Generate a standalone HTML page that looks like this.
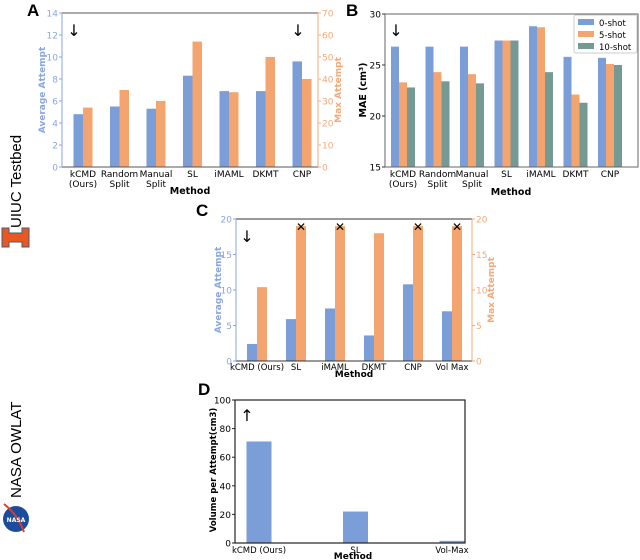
<!DOCTYPE html>
<html><head><meta charset="utf-8"><style>
html,body{margin:0;padding:0;background:#fff;}
svg{display:block;font-family:"DejaVu Sans","Liberation Sans",sans-serif;}
</style></head><body>
<svg id="fig" width="640" height="560" viewBox="0 0 640 560" xmlns="http://www.w3.org/2000/svg">
  <text x="27" y="16" font-size="17" font-weight="bold" font-family="Liberation Sans, sans-serif">A</text>
  <text x="346" y="16" font-size="17" font-weight="bold" font-family="Liberation Sans, sans-serif">B</text>
  <text x="196" y="216" font-size="17" font-weight="bold" font-family="Liberation Sans, sans-serif">C</text>
  <text x="198" y="395" font-size="17" font-weight="bold" font-family="Liberation Sans, sans-serif">D</text>
  <text transform="translate(21,228) rotate(-90)" font-size="15" font-family="Liberation Sans, sans-serif">UIUC Testbed</text>
  <path d="M2,228 H9 V233 H22 V228 H29 V247 H22 V242 H9 V247 H2 Z" fill="#e8581f" stroke="#4a5a78" stroke-width="1"/>
  <text transform="translate(21,498) rotate(-90)" font-size="15" font-family="Liberation Sans, sans-serif">NASA OWLAT</text>
  <g>
    <circle cx="16" cy="519" r="13" fill="#1c4c9c"/>
    <path d="M4,504 Q18,515 24,532" stroke="#e03c28" stroke-width="2" fill="none"/>
    <text x="16" y="522" font-size="6" fill="#fff" text-anchor="middle" font-weight="bold">NASA</text>
  </g>
</svg>
<script>
// ---- Panel A data ----
const catsA = [["kCMD","(Ours)"],["Random","Split"],["Manual","Split"],["SL"],["iMAML"],["DKMT"],["CNP"]];
const avgA = [4.8, 5.5, 5.3, 8.3, 6.9, 6.9, 9.6];
const maxA = [27, 35, 30, 57, 34, 50, 40];
const ticksAL = [0,2,4,6,8,10,12,14];
const ticksAR = [0,10,20,30,40,50,60,70];
// ---- Panel B data ----
const catsB = [["kCMD","(Ours)"],["Random","Split"],["Manual","Split"],["SL"],["iMAML"],["DKMT"],["CNP"]];
const shot0B = [26.8, 26.8, 26.8, 27.4, 28.8, 25.8, 25.7];
const shot5B = [23.3, 24.3, 24.1, 27.4, 28.7, 22.1, 25.1];
const shot10B = [22.8, 23.4, 23.2, 27.4, 24.3, 21.3, 25.0];
const ticksB = [15,20,25,30];
const legendB = ["0-shot","5-shot","10-shot"];
// ---- Panel C data ----
const catsC = ["kCMD (Ours)","SL","iMAML","DKMT","CNP","Vol Max"];
const avgC = [2.4, 5.9, 7.4, 3.6, 10.8, 7.0];
const maxC = [10.4, 19, 19, 18.0, 19, 19];
const cappedC = [false, true, true, false, true, true];
const ticksCL = [0,5,10,15,20];
const ticksCR = [0,5,10,15,20];
// ---- Panel D data ----
const catsD = ["kCMD (Ours)","SL","Vol-Max"];
const volD = [71, 22, 1.5];
const ticksD = [0,20,40,60,80,100];

const BLUE="#7b9ed9", ORANGE="#f4a46f", GREEN="#759a94", LBLUE="#8aa6e0", LORANGE="#f5a878";
const svg=document.getElementById('fig');
const NS="http://www.w3.org/2000/svg";
function mk(tag,attrs,parent){const e=document.createElementNS(NS,tag);for(const k in attrs)e.setAttribute(k,attrs[k]);(parent||svg).appendChild(e);return e;}
function txt(x,y,s,attrs,parent){const t=mk('text',Object.assign({x:x,y:y},attrs||{}),parent);t.textContent=s;return t;}
function lin(y0,y1,p0,p1){return v=>p0+(v-y0)/(y1-y0)*(p1-p0);}

// ===== Panel A =====
(function(){
  const g=mk('g',{});
  
  
  const L=62,R=318,T=13,B=167;
  const yL=lin(0,14,B,T), yR=lin(0,70,B,T);
  const xc=i=>83+36.5*i, bw=9.5;
  avgA.forEach((v,i)=>{const r=mk('rect',{x:xc(i)-bw,y:yL(v),width:bw,height:B-yL(v),fill:BLUE},g);
    
    });
  maxA.forEach((v,i)=>{const r=mk('rect',{x:xc(i),y:yR(v),width:bw,height:B-yR(v),fill:ORANGE},g);
    
    });
  mk('line',{x1:L,y1:T,x2:R,y2:T,stroke:'#555','stroke-width':1},g);
  mk('line',{x1:L,y1:B,x2:R,y2:B,stroke:'#555','stroke-width':1},g);
  mk('line',{x1:L,y1:T,x2:L,y2:B,stroke:LBLUE,'stroke-width':1},g);
  mk('line',{x1:R,y1:T,x2:R,y2:B,stroke:LORANGE,'stroke-width':1},g);
  ticksAL.forEach(t=>{mk('line',{x1:L-3,y1:yL(t),x2:L,y2:yL(t),stroke:LBLUE},g);
    txt(L-4,yL(t)+3.5,t,{'font-size':9,fill:LBLUE,'text-anchor':'end'},g);});
  ticksAR.forEach(t=>{mk('line',{x1:R,y1:yR(t),x2:R+3,y2:yR(t),stroke:LORANGE},g);
    txt(R+4,yR(t)+3.5,t,{'font-size':9,fill:LORANGE},g);});
  catsA.forEach((c,i)=>{c.forEach((s,j)=>txt(xc(i),B+10+j*10,s,{'font-size':9,'text-anchor':'middle'},g));});
  const xl=txt(190,194,'Method',{'font-size':9.5,'font-weight':'bold','text-anchor':'middle'},g);
  
  
  const yl=txt(0,0,'Average Attempt',{'font-size':9,'font-weight':'bold',fill:LBLUE,'text-anchor':'middle',transform:'translate(45,90) rotate(-90)'},g);
  
  
  const yr=txt(0,0,'Max Attempt',{'font-size':9,'font-weight':'bold',fill:LORANGE,'text-anchor':'middle',transform:'translate(341,90) rotate(-90)'},g);
  
  
  txt(74,36,'↓',{'font-size':16,'text-anchor':'middle'},g);
  txt(298,36,'↓',{'font-size':16,'text-anchor':'middle'},g);
})();

// ===== Panel B =====
(function(){
  const g=mk('g',{});
  
  
  const L=385,R=638,T=14,B=167;
  const y=lin(15,30,B,T);
  const xc=i=>403+34.5*i, bw=8;
  [[shot0B,BLUE,-1.5],[shot5B,ORANGE,-0.5],[shot10B,GREEN,0.5]].forEach(([arr,col,off],s)=>{
    arr.forEach((v,i)=>{const r=mk('rect',{x:xc(i)+off*bw,y:y(v),width:bw,height:B-y(v),fill:col},g);
      
      });
  });
  mk('rect',{x:L,y:T,width:R-L,height:B-T,fill:'none',stroke:'#666','stroke-width':1},g);
  ticksB.forEach(t=>{mk('line',{x1:L-3,y1:y(t),x2:L,y2:y(t),stroke:'#333'},g);
    txt(L-4,y(t)+3.5,t,{'font-size':9,'text-anchor':'end'},g);});
  catsB.forEach((c,i)=>{c.forEach((s,j)=>txt(xc(i),B+10+j*10,s,{'font-size':9,'text-anchor':'middle'},g));});
  const xl=txt(511,195,'Method',{'font-size':9.5,'font-weight':'bold','text-anchor':'middle'},g);
  
  
  const yl=txt(0,0,'MAE (cm³)',{'font-size':9.5,'font-weight':'bold','text-anchor':'middle',transform:'translate(366,90) rotate(-90)'},g);
  
  
  txt(396,36,'↓',{'font-size':16,'text-anchor':'middle'},g);
  const lg=mk('g',{},g);
  
  
  mk('rect',{x:574,y:15,width:63,height:38,fill:'#fff',stroke:'#ccc',rx:2},lg);
  [BLUE,ORANGE,GREEN].forEach((c,i)=>{
    const e=mk('g',{},lg);
    
    
    mk('rect',{x:578,y:19+i*12,width:16,height:6,fill:c},e);
    txt(599,26+i*12,legendB[i],{'font-size':8.5},e);
  });
})();

// ===== Panel C =====
(function(){
  const g=mk('g',{});
  
  
  const L=236,R=472,T=219,B=361;
  const yL=lin(0,20,B,T), yR=lin(0,20,B,T);
  const xc=i=>257+39*i, bw=10;
  avgC.forEach((v,i)=>{const r=mk('rect',{x:xc(i)-bw,y:yL(v),width:bw,height:B-yL(v),fill:BLUE},g);
    
    });
  maxC.forEach((v,i)=>{const r=mk('rect',{x:xc(i),y:yR(v),width:bw,height:B-yR(v),fill:ORANGE},g);
    
    
    if(cappedC[i]){const m=txt(xc(i)+bw/2,yR(v)+5,'✕',{'font-size':12,'text-anchor':'middle'},g);
      
      }});
  mk('line',{x1:L,y1:T,x2:R,y2:T,stroke:'#333'},g);
  mk('line',{x1:L,y1:B,x2:R,y2:B,stroke:'#333'},g);
  mk('line',{x1:L,y1:T,x2:L,y2:B,stroke:LBLUE},g);
  mk('line',{x1:R,y1:T,x2:R,y2:B,stroke:LORANGE},g);
  ticksCL.forEach(t=>{mk('line',{x1:L-3,y1:yL(t),x2:L,y2:yL(t),stroke:LBLUE},g);
    txt(L-4,yL(t)+3.5,t,{'font-size':9,fill:LBLUE,'text-anchor':'end'},g);});
  ticksCR.forEach(t=>{mk('line',{x1:R,y1:yR(t),x2:R+3,y2:yR(t),stroke:LORANGE},g);
    txt(R+4,yR(t)+3.5,t,{'font-size':9,fill:LORANGE},g);});
  catsC.forEach((c,i)=>txt(xc(i),B+9,c,{'font-size':8.5,'text-anchor':'middle'},g));
  const xl=txt(354,377,'Method',{'font-size':9,'font-weight':'bold','text-anchor':'middle'},g);
  
  
  const yl=txt(0,0,'Average Attempt',{'font-size':9,'font-weight':'bold',fill:LBLUE,'text-anchor':'middle',transform:'translate(221,290) rotate(-90)'},g);
  
  
  const yr=txt(0,0,'Max Attempt',{'font-size':9,'font-weight':'bold',fill:LORANGE,'text-anchor':'middle',transform:'translate(494,290) rotate(-90)'},g);
  
  
  txt(247,242,'↓',{'font-size':16,'text-anchor':'middle'},g);
})();

// ===== Panel D =====
(function(){
  const g=mk('g',{});
  
  
  const L=235,R=465,T=400,B=543;
  const y=lin(0,100,B,T);
  const xc=i=>259+96.5*i, bw=25;
  volD.forEach((v,i)=>{const r=mk('rect',{x:xc(i)-bw/2,y:y(v),width:bw,height:B-y(v),fill:BLUE},g);
    
    });
  mk('rect',{x:L,y:T,width:R-L,height:B-T,fill:'none',stroke:'#222','stroke-width':1.2},g);
  ticksD.forEach(t=>{mk('line',{x1:L-3,y1:y(t),x2:L,y2:y(t),stroke:'#222'},g);
    txt(L-4,y(t)+3.5,t,{'font-size':9,'text-anchor':'end'},g);});
  catsD.forEach((c,i)=>txt(xc(i),B+10,c,{'font-size':8.5,'text-anchor':'middle'},g));
  const xl=txt(353,559,'Method',{'font-size':9,'font-weight':'bold','text-anchor':'middle'},g);
  
  
  const yl=txt(0,0,'Volume per Attempt(cm3)',{'font-size':8.5,'font-weight':'bold','text-anchor':'middle',transform:'translate(216,470) rotate(-90)'},g);
  
  
  txt(247,421,'↑',{'font-size':16,'text-anchor':'middle'},g);
})();
</script>
</body></html>
